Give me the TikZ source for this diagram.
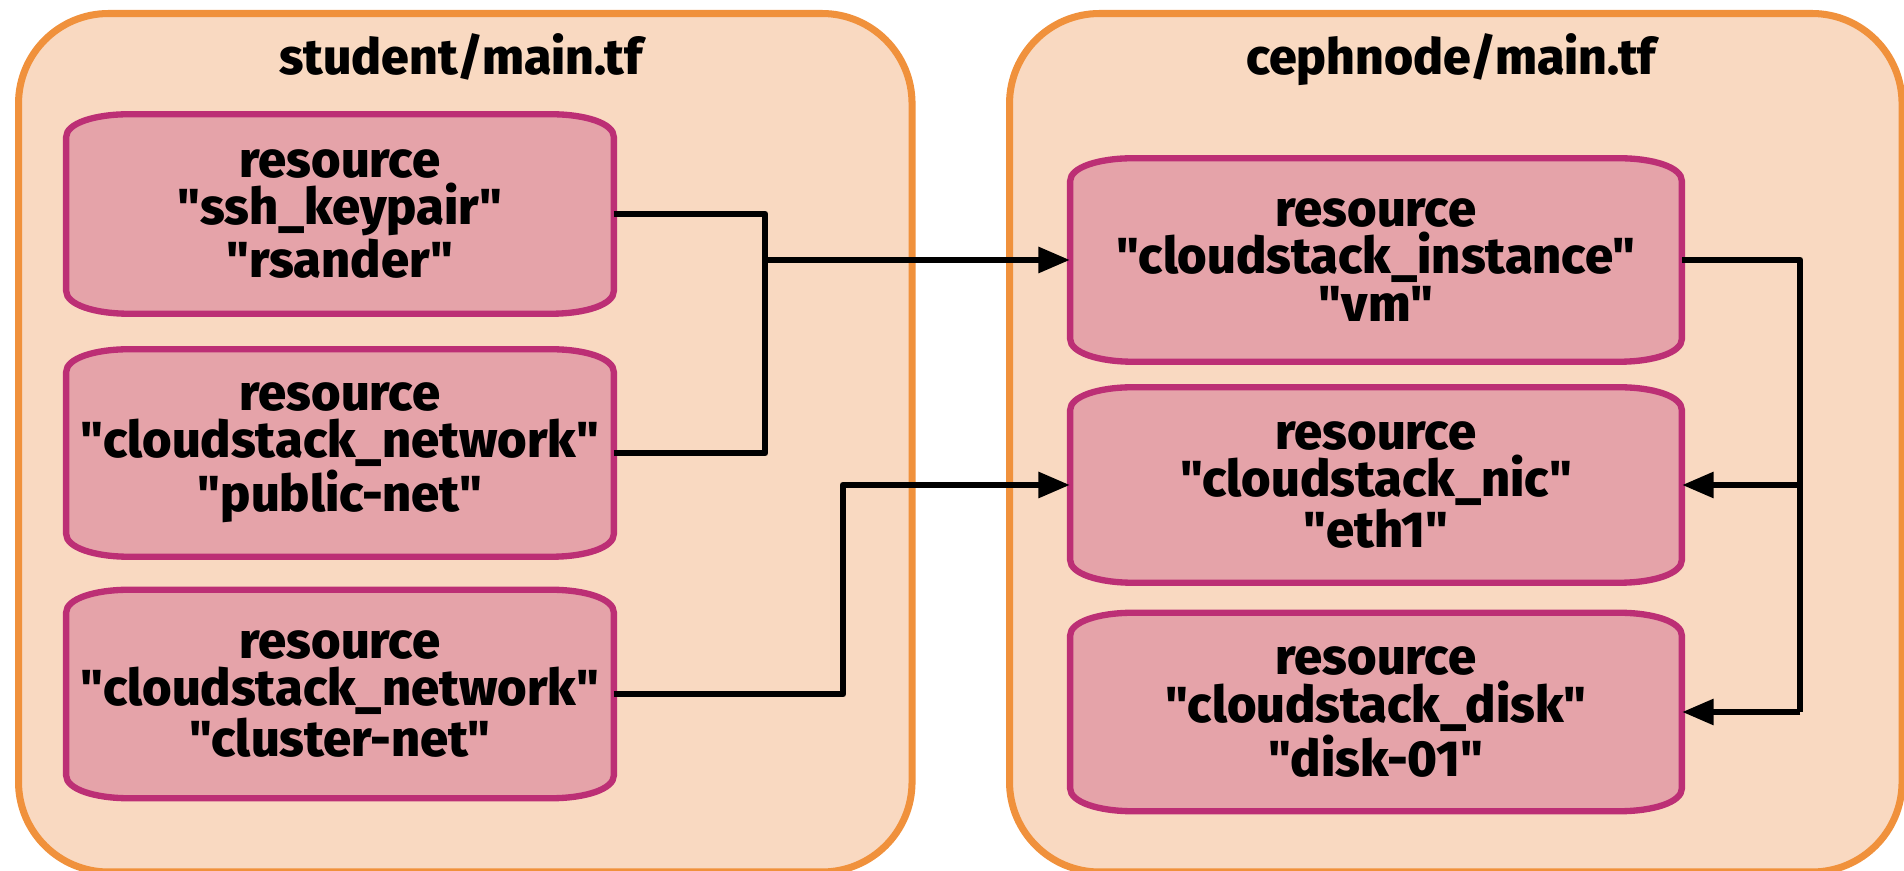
\documentclass[tikz,border=0pt]{standalone}
\usepackage{fontspec}
\setmainfont{Fira Sans}[Ligatures=TeXOff, BoldFont={Fira Sans ExtraBold}]
\usetikzlibrary{arrows.meta}
\definecolor{contfill}{HTML}{F9D9C1}
\definecolor{contline}{HTML}{F0913C}
\definecolor{boxfill}{HTML}{E5A3A9}
\definecolor{boxline}{HTML}{BC2F75}
\pgfdeclarelayer{bg}\pgfdeclarelayer{mid}\pgfsetlayers{bg,mid,main}
\newcommand\resframe[1]{%
\begin{pgfonlayer}{mid}
\draw[resshape] ([yshift=-6.5pt]#1.north west)
 .. controls ([yshift=-2.6pt]#1.north west) and ([xshift=8pt]#1.north west) .. ([xshift=18pt]#1.north west)
 -- ([xshift=-18pt]#1.north east)
 .. controls ([xshift=-8pt]#1.north east) and ([yshift=-2.6pt]#1.north east) .. ([yshift=-6.5pt]#1.north east)
 -- ([yshift=6.5pt]#1.south east)
 .. controls ([yshift=2.6pt]#1.south east) and ([xshift=-8pt]#1.south east) .. ([xshift=-18pt]#1.south east)
 -- ([xshift=18pt]#1.south west)
 .. controls ([xshift=8pt]#1.south west) and ([yshift=2.6pt]#1.south west) .. ([yshift=6.5pt]#1.south west)
 -- cycle;
\end{pgfonlayer}}
\begin{document}
\begin{tikzpicture}[x=0.01cm,y=-0.01cm,
 container/.style={draw=contline, fill=contfill, line width=2pt, rounded corners=0.9cm, inner sep=0pt, anchor=north west},
 titletext/.style={font=\fontsize{14.2}{16}\selectfont\bfseries, anchor=base},
 res/.style={font=\fontsize{14.4}{13.4}\selectfont\bfseries, align=center, inner sep=0pt, minimum width=5.46cm},
 resR/.style={res, minimum width=6.10cm},
 resshape/.style={draw=boxline, fill=boxfill, line width=1.8pt},
 conn/.style={line width=1.9pt, line join=round},
 arr/.style={conn, -{Triangle[length=9pt,width=7pt]}}
]
\useasboundingbox (0,0) rectangle (1904,871);
\begin{pgfonlayer}{bg}
\node[container, minimum width=8.93cm, minimum height=8.58cm] (student) at (15,10) {};
\node[container, minimum width=8.92cm, minimum height=8.58cm] (cephnode) at (1006,10) {};
\end{pgfonlayer}
\node[titletext] (studentT) at (461,75) {student/main.tf};
\node[titletext] (cephT) at (1451,75) {cephnode/main.tf};

\node[res, minimum height=1.98cm] (ssh) at (340,214) {resource\\"ssh\_keypair"\\"rsander"};
\node[res, minimum height=2.06cm] (public) at (340,453) {resource\\"cloudstack\_network"\\"public-net"};
\node[res, minimum height=2.07cm] (cluster) at (340,694) {resource\\"cloudstack\_network"\\"cluster-net"};
\node[resR, minimum height=2.02cm] (vm) at (1376,260) {resource\\"cloudstack\_instance"\\"vm"};
\node[resR, minimum height=1.94cm] (nic) at (1376,485) {resource\\"cloudstack\_nic"\\"eth1"};
\node[resR, minimum height=1.97cm] (disk) at (1376,712) {resource\\"cloudstack\_disk"\\"disk-01"};
\resframe{ssh}\resframe{public}\resframe{cluster}
\resframe{vm}\resframe{nic}\resframe{disk}

\coordinate (j1) at (765,260);
\coordinate (j2) at (843,0);
\coordinate (j3) at (1800,0);
\draw[conn] (ssh.east) -| (j1);
\draw[conn] (public.east) -| (j1);
\draw[arr] (j1) -- (vm.west);
\draw[arr] (cluster.east) -| (j2 |- nic.west) -- (nic.west);
\draw[conn] (vm.east) -| (j3 |- disk.east);
\draw[arr] (j3 |- nic.east) -- (nic.east);
\draw[arr] (j3 |- disk.east) -- (disk.east);
\end{tikzpicture}
\end{document}
